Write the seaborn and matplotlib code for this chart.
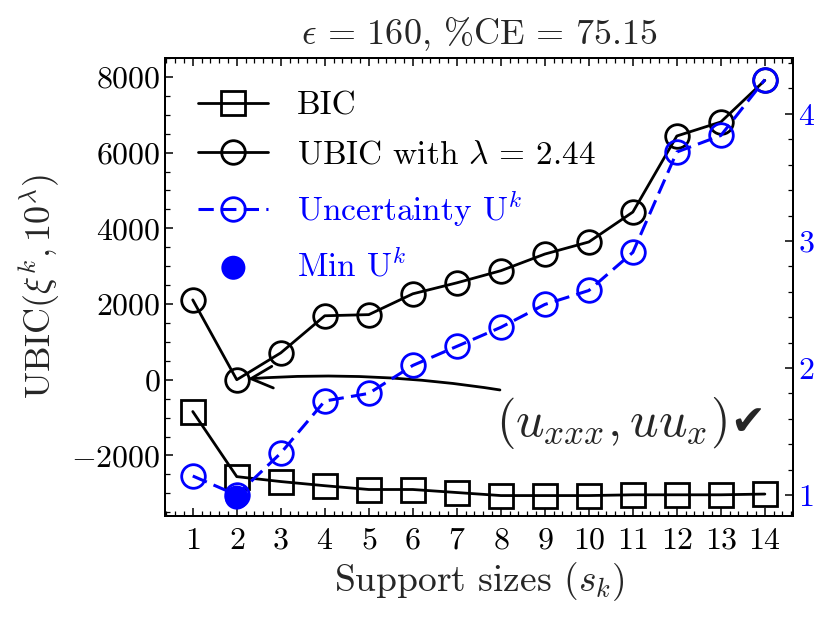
import numpy as np
import matplotlib
matplotlib.use("Agg")
import matplotlib.pyplot as plt
import seaborn as sns
from matplotlib.ticker import MultipleLocator, AutoMinorLocator

# ---------------------------------------------------------------------------
# Data
# ---------------------------------------------------------------------------

support_sizes = [1, 2, 3, 4, 5, 6, 7, 8, 9, 10, 11, 12, 13, 14]
bic = [-840, -2560, -2690, -2800, -2900, -2900, -2980, -3060,
       -3060, -3060, -3040, -3040, -3040, -3020]
ubic = [2110, 0, 710, 1690, 1720, 2270, 2560, 2880,
        3320, 3640, 4430, 6440, 6810, 7910]
uncertainty = [1.15, 1.0, 1.33, 1.74, 1.80, 2.02, 2.17, 2.32,
               2.50, 2.61, 2.91, 3.70, 3.83, 4.27]
min_idx = int(np.argmin(uncertainty))

LAMBDA = 2.44
TITLE = r"$\epsilon\,=\,160$, %CE$\,=\,75.15$"

# ---------------------------------------------------------------------------
# Style
# ---------------------------------------------------------------------------

sns.set_style("ticks")
plt.rcParams.update({
    "font.family": ["cmr10", "DejaVu Sans"],
    "mathtext.fontset": "cm",
    "axes.formatter.use_mathtext": True,
    "axes.linewidth": 1.4,
    "xtick.direction": "in",
    "ytick.direction": "in",
    "xtick.major.size": 6,
    "ytick.major.size": 6,
    "xtick.minor.size": 3.5,
    "ytick.minor.size": 3.5,
    "xtick.major.width": 1.1,
    "ytick.major.width": 1.1,
    "xtick.minor.width": 0.9,
    "ytick.minor.width": 0.9,
    "xtick.color": "black",
    "ytick.color": "black",
    "axes.edgecolor": "black",
})

fig, ax = plt.subplots(figsize=(8.31, 6.19), dpi=100)
fig.subplots_adjust(left=0.1986, right=0.9543, top=0.9063, bottom=0.1664)
ax2 = ax.twinx()

mk = dict(markersize=17, markerfacecolor="none", markeredgewidth=2.0)

# left axis: BIC / UBIC
sns.lineplot(x=support_sizes, y=bic, ax=ax, color="black", lw=2.0,
             marker="s", markeredgecolor="black", label="BIC", **mk)
sns.lineplot(x=support_sizes, y=ubic, ax=ax, color="black", lw=2.0,
             marker="o", markeredgecolor="black",
             label=rf"UBIC with $\lambda\,=\,{LAMBDA}$", **mk)

# right axis: uncertainty
sns.lineplot(x=support_sizes, y=uncertainty, ax=ax2, color="blue", lw=2.2,
             linestyle=(0, (5, 2.4)), marker="o", markeredgecolor="blue",
             label=r"Uncertainty U$^k$", **mk)
sns.scatterplot(x=[support_sizes[min_idx]], y=[uncertainty[min_idx] - 0.02],
                ax=ax2, color="blue", s=300, edgecolor="none",
                label=r"Min U$^k$", zorder=5)

# axes limits / ticks
ax.set_xlim(0.37, 14.64)
ax.set_ylim(-3600, 8500)
ax2.set_ylim(0.835, 4.44)
ax.set_xticks(support_sizes)
ax.xaxis.set_minor_locator(AutoMinorLocator(5))
ax.yaxis.set_major_locator(MultipleLocator(2000))
ax.yaxis.set_minor_locator(MultipleLocator(500))
ax2.yaxis.set_major_locator(MultipleLocator(1))
ax2.yaxis.set_minor_locator(MultipleLocator(0.2))

ax.tick_params(which="both", top=True, right=False, labelsize=23)
ax.tick_params(axis="x", pad=8)
ax2.tick_params(which="both", right=True, left=False, labelsize=23,
                labelcolor="blue")

ax.set_xlabel(r"Support sizes $(s_k)$", fontsize=27, labelpad=4)
ax.set_ylabel(r"UBIC$(\xi^k, 10^\lambda)$", fontsize=26, labelpad=6)
ax.set_title(TITLE, fontsize=26, pad=10)

# legend combining both axes
h1, l1 = ax.get_legend_handles_labels()
h2, l2 = ax2.get_legend_handles_labels()
ax2.get_legend().remove()
ax.legend(h1 + h2, l1 + l2, loc="upper left", frameon=False, fontsize=24,
          labelcolor=["black", "black", "blue", "blue"],
          handlelength=2.1, handletextpad=0.85, labelspacing=0.58,
          borderaxespad=0.6)

# annotation arrow pointing at the UBIC minimum
ax.annotate("", xy=(support_sizes[1], ubic[1]), xytext=(7.98, -270),
            arrowprops=dict(arrowstyle="->,head_length=0.6,head_width=0.3",
                            color="black", lw=2.0, mutation_scale=26,
                            shrinkA=0, shrinkB=8,
                            connectionstyle="arc3,rad=0.06"))
ax.text(7.9, -1150, r"$(u_{xxx}, uu_x)$", fontsize=36, ha="left",
        va="center")
ax.text(13.22, -1150, "\u2714", fontsize=30, ha="left", va="center",
        family="DejaVu Sans")

fig.savefig("out.png", dpi=100)
